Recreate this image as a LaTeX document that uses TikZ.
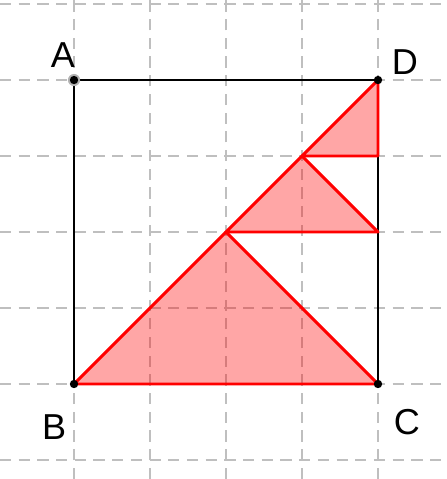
\documentclass[tikz,border=0pt]{standalone}
\usepackage{fontspec}
\setmainfont{Liberation Sans}
\usetikzlibrary{calc}
\tikzset{
  gridln/.style={draw=black!25, line width=1pt, dash pattern=on 4.2pt off 2.8pt},
  side/.style={draw=black, line width=1pt},
  tri/.style={draw=red, line width=1.1pt, fill=red, fill opacity=0.35, line join=round},
  lbl/.style={font=\fontsize{13.5}{15}\selectfont, inner sep=0pt},
}
\begin{document}
\begin{tikzpicture}
\useasboundingbox (-0.974,-1.25) rectangle (4.908,5.053);

% Grid
\foreach \y in {-1,...,5}
  \draw[gridln] (-0.974,\y) -- (4.908,\y);
\foreach \x in {0,...,4}
  \draw[gridln] (\x,-1.25) -- (\x,5.053);

% Points
\coordinate (B) at (0,0);
\coordinate (C) at (4,0);
\coordinate (D) at (4,4);
\coordinate (A) at (0,4);
\coordinate (P) at (2,2);
\coordinate (Q) at (3,3);
\coordinate (R) at (4,2);
\coordinate (S) at (4,3);

% Square
\draw[side] (A) -- (D) -- (C) -- (B) -- cycle;

% Triangles
\draw[tri] (B) -- (P) -- (C) -- cycle;
\draw[tri] (P) -- (Q) -- (R) -- cycle;
\draw[tri] (Q) -- (D) -- (S) -- cycle;

% Vertices
\fill[black!30] (A) circle (0.08);
\foreach \p in {A,B,C,D}
  \fill (\p) circle (0.055);

% Labels
\node[lbl] (lA) at ($(A)+(-0.145,0.33)$) {A};
\node[lbl] (lD) at ($(D)+(0.355,0.24)$) {D};
\node[lbl] (lB) at ($(B)+(-0.26,-0.57)$) {B};
\node[lbl] (lC) at ($(C)+(0.38,-0.50)$) {C};

\end{tikzpicture}
\end{document}
